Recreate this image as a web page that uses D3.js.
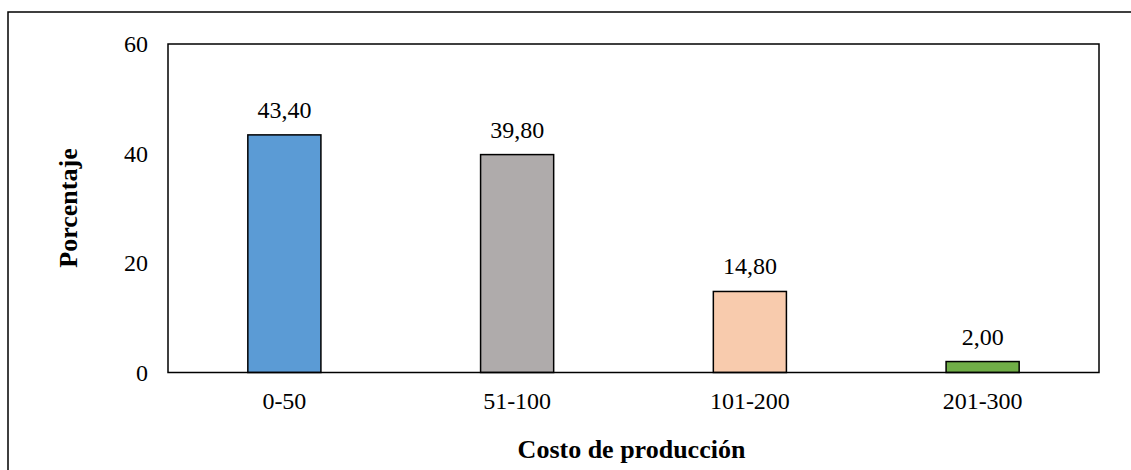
<!DOCTYPE html>
<html><head><meta charset="utf-8">
<script src="https://cdn.jsdelivr.net/npm/d3@7"></script>
<style>body{margin:0;background:#fff}svg{display:block}svg text{font-family:"Liberation Serif","DejaVu Serif",serif !important;fill:#000}</style>
</head><body><svg id="c" width="1131" height="470"></svg>
<script>
const categories = ["0-50","51-100","101-200","201-300"];
const values = [43.40, 39.80, 14.80, 2.00];
const colors = ["#5B9BD5","#AFABAB","#F8CBAD","#70AD47"];
const yTicks = [0,20,40,60];

const FONT = '"Liberation Serif","DejaVu Serif",serif';
const svg = d3.select("#c");
const m = {l:168, r:1099, t:44, b:372.5};
svg.append("rect").attr("x",8).attr("y",12).attr("width",1140).attr("height",480).attr("fill","none").attr("stroke","#000").attr("stroke-width",1.5);

const x = d3.scaleBand().domain(categories).range([m.l,m.r]).paddingInner(0.686).paddingOuter(0.343);
const y = d3.scaleLinear().domain([0,60]).range([m.b,m.t]);

svg.selectAll("rect.bar").data(values).join("rect").attr("class","bar")
 .attr("x",(d,i)=>x(categories[i])).attr("width",x.bandwidth())
 .attr("y",d=>y(d)).attr("height",d=>y(0)-y(d))
 .attr("fill",(d,i)=>colors[i]).attr("stroke","#000").attr("stroke-width",1.5);

svg.append("rect").attr("x",m.l).attr("y",m.t).attr("width",m.r-m.l).attr("height",m.b-m.t)
 .attr("fill","none").attr("stroke","#000").attr("stroke-width",1.5);

const ya = d3.axisLeft(y).tickValues(yTicks).tickSize(0).tickPadding(20);
const yg = svg.append("g").attr("transform",`translate(${m.l},0)`).call(ya)
  .attr("font-family",FONT).attr("font-size",24);
yg.select(".domain").remove();

const xa = d3.axisBottom(x).tickSize(0).tickPadding(19);
const xg = svg.append("g").attr("transform",`translate(0,${m.b})`).call(xa)
  .attr("font-family",FONT).attr("font-size",24);
xg.select(".domain").remove();

svg.selectAll("text.lbl").data(values).join("text").attr("class","lbl")
 .attr("x",(d,i)=>x(categories[i])+x.bandwidth()/2).attr("y",d=>y(d)-17)
 .attr("text-anchor","middle").attr("font-family",FONT).attr("font-size",24)
 .text(d=>d.toFixed(2).replace(".",","));

svg.append("text").attr("x",(m.l+m.r)/2+(-2)).attr("y",458).attr("text-anchor","middle")
 .attr("font-family",FONT).attr("font-size",26).attr("font-weight","bold").text("Costo de producción");
svg.append("text").attr("transform",`translate(77,208) rotate(-90)`).attr("text-anchor","middle")
 .attr("font-family",FONT).attr("font-size",26).attr("font-weight","bold").text("Porcentaje");
</script></body></html>
